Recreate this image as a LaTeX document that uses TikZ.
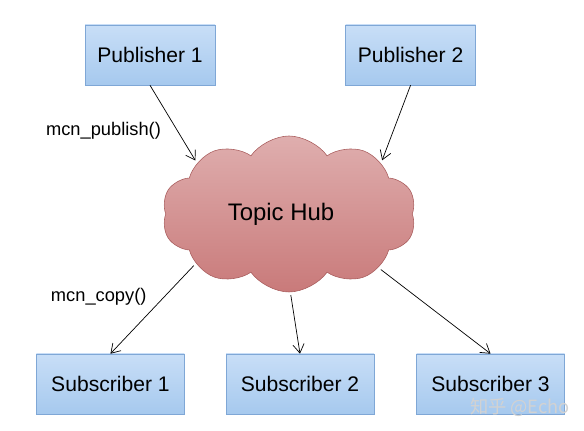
\documentclass[tikz,border=0pt]{standalone}
\usepackage{fontspec}
\setmainfont{Liberation Sans}
\newfontfamily\cjkfont{Noto Sans CJK SC}
\usetikzlibrary{arrows.meta,positioning,shapes.symbols}

\definecolor{boxtop}{HTML}{C8DEF7}
\definecolor{boxbot}{HTML}{A6C9EE}
\definecolor{boxline}{HTML}{7FA7D6}
\definecolor{hubtop}{HTML}{DFAEAE}
\definecolor{hubbot}{HTML}{C97A7A}
\definecolor{hubline}{HTML}{A85C5C}

\begin{document}
\begin{tikzpicture}[
    node distance=1.025cm and 1.025cm,
    client/.style={rectangle,draw=boxline,top color=boxtop,bottom color=boxbot,minimum height=1.5cm,font=\fontsize{15}{18}\selectfont},
    pubbox/.style={client,minimum width=3.25cm},
    subbox/.style={client,minimum width=3.7cm},
    hubcloud/.style={cloud,cloud puffs=10,cloud puff arc=110,aspect=1.65,draw=hubline,top color=hubtop,bottom color=hubbot,minimum width=6.35cm,minimum height=3.9cm,font=\fontsize{17}{20}\selectfont},
    arr/.style={-{Straight Barb[length=2.2mm,width=2.8mm]},line width=0.5pt},
    call/.style={font=\fontsize{13}{16}\selectfont}
]
\useasboundingbox (0,0) rectangle (14.6,10.775);

\node[pubbox] (pub1) at (3.75,9.4) {Publisher 1};
\node[pubbox,right=3.25cm of pub1] (pub2) {Publisher 2};

\node[hubcloud] (hub) at (7.225,5.425) {Topic Hub\hspace*{0.4cm}};

\node[subbox] (sub2) at (7.5,1.175) {Subscriber 2};
\node[subbox,left=of sub2] (sub1) {Subscriber 1};
\node[subbox,right=1.05cm of sub2] (sub3) {Subscriber 3};

\draw[arr,shorten >=2pt] (pub1.south) -- node[call,pos=0.58,left=8pt]{mcn\_publish()} (hub.151);
\draw[arr,shorten >=2pt] (pub2.south) -- (hub.29);
\draw[arr,shorten <=2pt] (hub.208) -- node[call,pos=0.37,left=9pt]{mcn\_copy()} (sub1.north);
\draw[arr,shorten <=2pt] (hub.271) -- (sub2.north);
\draw[arr,shorten <=2pt] (hub.329) -- (sub3.north);

\node[text=gray!35,font=\cjkfont\fontsize{13}{16}\selectfont] (watermark) at (13.0,0.6) {知乎 @Echo};
\end{tikzpicture}
\end{document}
